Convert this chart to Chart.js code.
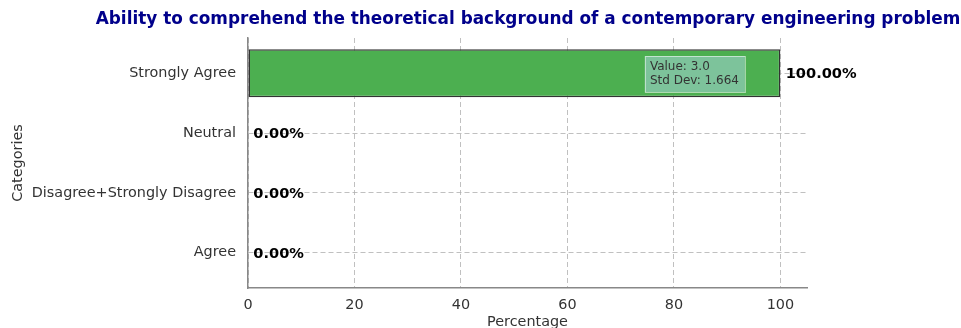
<!DOCTYPE html>
<html>
<head>
<meta charset="utf-8" />
<title>Ability chart</title>
<script src="https://cdn.jsdelivr.net/npm/chart.js@4.4.0/dist/chart.umd.min.js"></script>
<style>
    body { margin: 0; background: #fff; }
    #wrap { width: 961px; height: 328px; }
</style>
</head>
<body>
<div id="wrap"><canvas id="chart" width="961" height="328"></canvas></div>

<script>
// Data, bottom to top (matplotlib barh order).
var categories = ['Agree', 'Disagree+Strongly Disagree', 'Neutral', 'Strongly Agree'];
var percentages = [0, 0, 0, 100];
var xTicks = [0, 20, 40, 60, 80, 100];
var meanValue = 3.0;
var stdDev = 1.664;

var chartTitle = 'Ability to comprehend the theoretical background of a contemporary engineering problem';
var font = "'DejaVu Sans', sans-serif";

// Title, axis titles, value labels and stats box.
var extrasPlugin = {
    id: 'extras',
    afterDatasetsDraw: function (chart) {
        let ctx = chart.ctx;
        let xs = chart.scales.x;
        let meta = chart.getDatasetMeta(0);
        ctx.save();
        ctx.font = 'bold 14.6px ' + font;
        ctx.fillStyle = '#000';
        ctx.textAlign = 'left';
        ctx.textBaseline = 'middle';
        meta.data.forEach(function (bar, i) {
            let v = percentages[i];
            ctx.fillText(v.toFixed(2) + '%', xs.getPixelForValue(v + 1), bar.y + 1);
        });
        ctx.restore();
    },
    afterDraw: function (chart) {
        let ctx = chart.ctx;
        let area = chart.chartArea;
        let cx = (area.left + area.right) / 2;
        ctx.save();

        ctx.font = 'bold 16.9px ' + font;
        ctx.fillStyle = '#00008B';
        ctx.textAlign = 'center';
        ctx.textBaseline = 'middle';
        ctx.fillText(chartTitle, cx + 0.5, 20);

        ctx.font = '14.4px ' + font;
        ctx.fillStyle = '#333';
        ctx.fillText('Percentage', cx, 322);

        ctx.save();
        ctx.translate(18, (area.top + area.bottom) / 2);
        ctx.rotate(-Math.PI / 2);
        ctx.fillText('Categories', 0, 0);
        ctx.restore();

        // stats box
        let bx = area.left + 0.71 * (area.right - area.left);
        let by = area.top + 18;
        let bw = 100, bh = 36;
        ctx.fillStyle = 'rgba(173, 216, 230, 0.5)';
        ctx.strokeStyle = 'rgba(255, 255, 255, 0.55)';
        ctx.lineWidth = 1;
        ctx.fillRect(bx, by, bw, bh);
        ctx.strokeRect(bx + 0.5, by + 0.5, bw, bh);
        ctx.font = '12px ' + font;
        ctx.fillStyle = '#333';
        ctx.textAlign = 'left';
        ctx.fillText('Value: ' + meanValue.toFixed(1), bx + 5, by + 11);
        ctx.fillText('Std Dev: ' + stdDev.toFixed(3), bx + 5, by + 25);
        ctx.restore();
    }
};

var ctx = document.getElementById('chart').getContext('2d');
var chart = new Chart(ctx, {
    type: 'bar',
    data: {
        datasets: [{
            data: categories.map(function (c, i) { return {x: percentages[i], y: i}; }),
            backgroundColor: '#4CAF50',
            borderColor: '#333',
            borderWidth: 1.5,
            borderSkipped: false,
            barPercentage: 0.8,
            categoryPercentage: 1.0,
        }],
    },
    options: {
        indexAxis: 'y',
        responsive: false,
        animation: false,
        layout: {
            padding: {top: 38, right: 154, bottom: 0, left: 0},
        },
        scales: {
            x: {
                type: 'linear',
                min: 0,
                max: 105,
                afterBuildTicks: function (scale) {
                    scale.ticks = xTicks.map(function (v) { return {value: v}; });
                },
                afterFit: function (scale) { scale.height = 40; },
                ticks: {
                    font: {family: font, size: 14.4},
                    color: '#333',
                    padding: 9,
                    maxRotation: 0,
                },
                grid: {
                    color: 'rgba(176, 176, 176, 0.8)',
                    lineWidth: 1,
                    drawTicks: false,
                },
                border: {display: true, color: '#888', width: 1.5, dash: [5, 3]},
            },
            y: {
                type: 'linear',
                min: -0.59,
                max: 3.59,
                offset: false,
                afterBuildTicks: function (scale) {
                    scale.ticks = categories.map(function (c, i) { return {value: i}; });
                },
                afterFit: function (scale) { scale.width = 248; },
                ticks: {
                    font: {family: font, size: 14.4},
                    color: '#333',
                    padding: 12,
                    callback: function (v) { return categories[v]; },
                },
                grid: {
                    offset: false,
                    color: 'rgba(176, 176, 176, 0.8)',
                    lineWidth: 1,
                    drawTicks: false,
                },
                border: {display: true, color: '#888', width: 1.5, dash: [5, 3]},
            },
        },
        plugins: {
            legend: {display: false},
            tooltip: {enabled: false},
        },
    },
    plugins: [extrasPlugin],
});
</script>
</body>
</html>
